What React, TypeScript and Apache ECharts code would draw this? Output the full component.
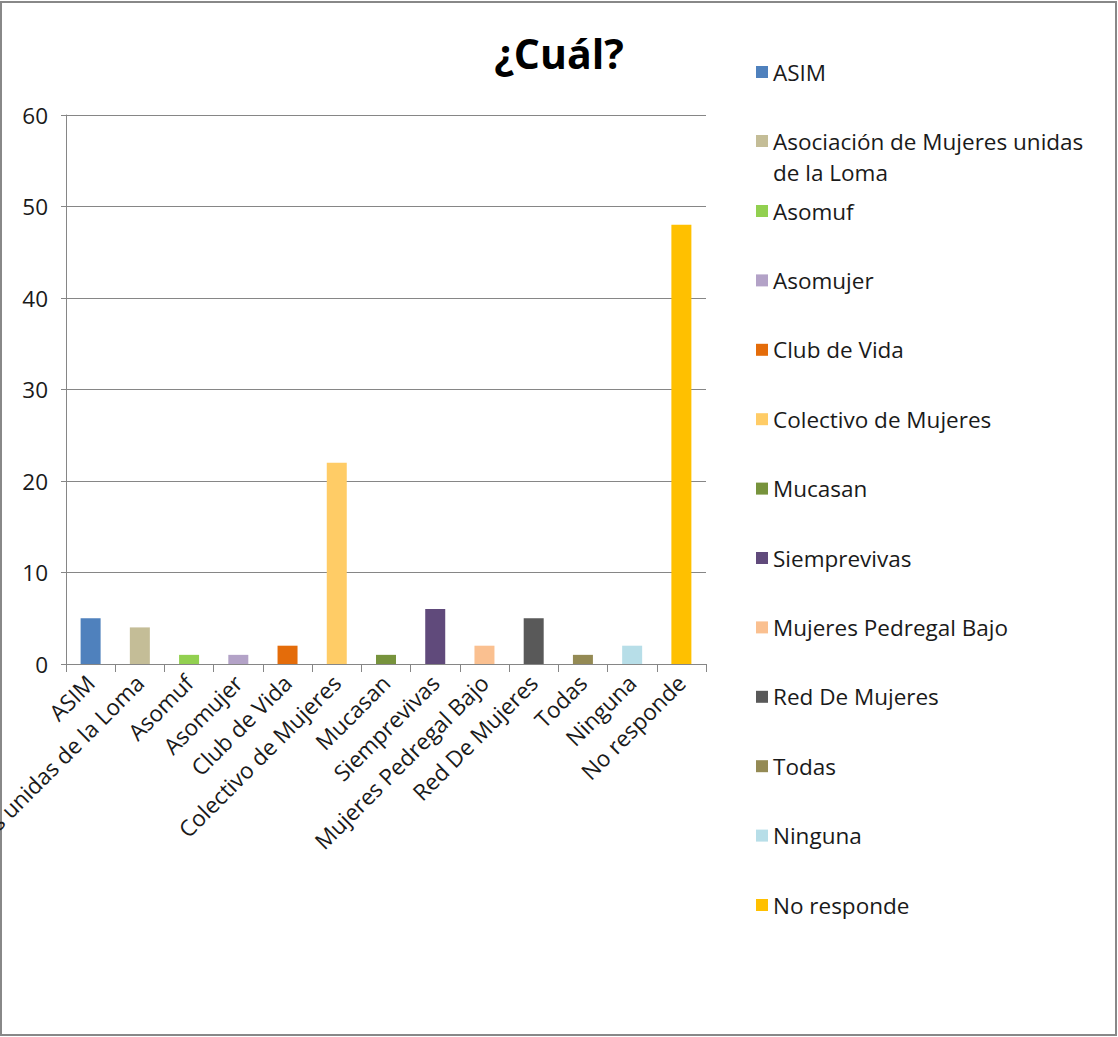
import React, { useEffect, useRef } from "react";
import * as echarts from "echarts";

const categories = [
  "ASIM",
  "Asociación de Mujeres unidas de la Loma",
  "Asomuf",
  "Asomujer",
  "Club de Vida",
  "Colectivo de Mujeres",
  "Mucasan",
  "Siemprevivas",
  "Mujeres Pedregal Bajo",
  "Red De Mujeres",
  "Todas",
  "Ninguna",
  "No responde",
];
const values = [5, 4, 1, 1, 2, 22, 1, 6, 2, 5, 1, 2, 48];
const colors = [
  "#4F81BD",
  "#C4BD97",
  "#92D050",
  "#B3A2C7",
  "#E46C0A",
  "#FFCC66",
  "#77933C",
  "#604A7B",
  "#FAC090",
  "#595959",
  "#948A54",
  "#B7DEE8",
  "#FFC000",
];
const yMin = 0;
const yMax = 60;
const yInterval = 10;

const FONT = "Open Sans";

export default function App() {
  const ref = useRef<HTMLDivElement>(null);
  useEffect(() => {
    if (!ref.current) return;
    const chart = echarts.init(ref.current, null, { renderer: "svg" });
    const legendText = {
      fontFamily: FONT,
      fontSize: 22.5,
      color: "#1a1a1a",
      lineHeight: 31,
    };
    const wrapLegend = (name: string) =>
      name === categories[1] ? " \nAsociación de Mujeres unidas\nde la Loma" : name;
    chart.setOption({
      animation: false,
      backgroundColor: "#fff",
      textStyle: { fontFamily: FONT },
      title: {
        text: "¿Cuál?",
        left: "center",
        top: 27,
        textStyle: { fontFamily: FONT, fontSize: 41, fontWeight: "bold", color: "#000" },
      },
      legend: [
        {
          orient: "vertical",
          left: 751,
          top: 51.5,
          itemWidth: 12,
          itemHeight: 12,
          itemGap: 7,
          icon: "rect",
          selectedMode: false,
          textStyle: legendText,
          formatter: wrapLegend,
          data: [categories[0], categories[1]],
        },
        {
          orient: "vertical",
          left: 751,
          top: 190.5,
          itemWidth: 12,
          itemHeight: 12,
          itemGap: 38.4,
          icon: "rect",
          selectedMode: false,
          textStyle: legendText,
          data: categories.slice(2),
        },
      ],
      grid: {
        left: 66,
        top: 115,
        right: 412,
        bottom: 373,
        containLabel: false,
        outerBoundsMode: "none",
      },
      xAxis: {
        type: "category",
        data: categories,
        axisLine: { show: true, lineStyle: { color: "#868686", width: 1 } },
        axisTick: { show: true, length: 8, lineStyle: { color: "#868686" } },
        axisLabel: {
          interval: 0,
          rotate: 45,
          margin: 15,
          fontFamily: FONT,
          fontSize: 22.5,
          color: "#1a1a1a",
        },
      },
      yAxis: {
        type: "value",
        min: yMin,
        max: yMax,
        interval: yInterval,
        axisLine: { show: true, lineStyle: { color: "#868686", width: 1 } },
        axisTick: { show: true, length: 5, lineStyle: { color: "#868686" } },
        splitLine: { show: true, lineStyle: { color: "#868686", width: 1 } },
        axisLabel: { margin: 18, fontFamily: FONT, fontSize: 22.5, color: "#1a1a1a" },
      },
      series: categories.map((name, i) => ({
        name,
        type: "bar",
        stack: "all",
        barWidth: 20,
        itemStyle: { color: colors[i] },
        data: values.map((v, j) => (j === i ? v : "-")),
      })),
      graphic: [
        {
          type: "rect",
          shape: { x: 1, y: 2, width: 1115, height: 1033 },
          style: { fill: "none", stroke: "#888", lineWidth: 2 },
          silent: true,
        },
      ],
    });
    return () => chart.dispose();
  }, []);
  return (
    <div
      ref={ref}
      style={{ position: "absolute", left: 0, top: 0, width: 1118, height: 1037 }}
    />
  );
}
